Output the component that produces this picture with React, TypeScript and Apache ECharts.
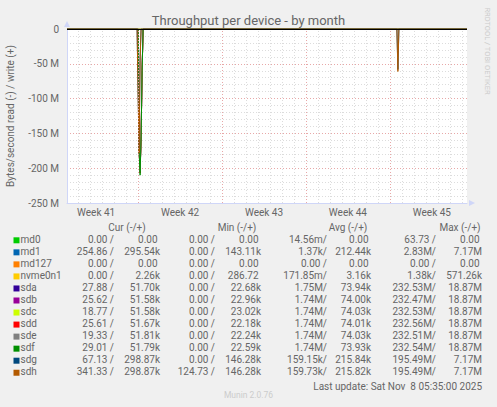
import { useEffect, useRef } from 'react';
import * as echarts from 'echarts';

const FONT = 'Roboto, "Open Sans", sans-serif';
const TEXT = '#666666';
const AXIS = '#CFD6F8';
const GRID = '#dcdcdc';
const MGRID = '#e8a8a8';

// x axis is in days since Sun 5 Oct 2025 00:00
const rangeStartDay = 1.07;
const rangeEndDay = 34.43;
const dayLines = [2, 3, 4, 5, 6, 8, 9, 10, 11, 12, 13, 15, 16, 17, 18, 19, 20, 22, 23, 24, 25, 26, 27, 29, 30, 31, 32, 33, 34];
const weekLines = [7, 14, 21, 28];
const weekCenters = [3.5, 10.5, 17.5, 24.5, 31.5];
const weekLabels = ['Week 41', 'Week 42', 'Week 43', 'Week 44', 'Week 45'];

const yTicks = [-250e6, -200e6, -150e6, -100e6, -50e6, 0];

const deviceNames = ['md0', 'md1', 'md127', 'nvme0n1', 'sda', 'sdb', 'sdc', 'sdd', 'sde', 'sdf', 'sdg', 'sdh'];
const deviceColors = ['#00CC00', '#0066B3', '#FF8000', '#FFCC00', '#330099', '#990099', '#CCFF00', '#FF0000', '#808080', '#008F00', '#00487D', '#B35A00'];

// read throughput in MB/s, as [day, value] pairs (drawn as negative)
const flatRead = [[rangeStartDay, 0], [rangeEndDay, 0]];
const sdaRead = [[rangeStartDay, 0], [7.0, 0], [7.083, 174], [7.167, 205], [7.25, 155], [7.333, 60], [7.417, 0], [rangeEndDay, 0]];
const sdbRead = [[rangeStartDay, 0], [7.0, 0], [7.083, 174], [7.167, 206], [7.25, 155], [7.333, 60], [7.417, 0], [rangeEndDay, 0]];
const sdcRead = [[rangeStartDay, 0], [7.0, 0], [7.083, 175], [7.167, 204], [7.25, 155], [7.333, 60], [7.417, 0], [rangeEndDay, 0]];
const sddRead = [[rangeStartDay, 0], [7.0, 0], [7.083, 174], [7.167, 207], [7.25, 155], [7.333, 60], [7.417, 0], [rangeEndDay, 0]];
const sdeRead = [[rangeStartDay, 0], [7.0, 0], [7.083, 175], [7.167, 205], [7.25, 155], [7.333, 60], [7.417, 0], [rangeEndDay, 0]];
const sdfRead = [[rangeStartDay, 0], [7.0, 0], [7.083, 175], [7.167, 210], [7.25, 155], [7.333, 60], [7.417, 0], [rangeEndDay, 0]];
const sdgRead = [[rangeStartDay, 0], [6.917, 0], [7.0, 90], [7.083, 172], [7.167, 40], [7.25, 0], [28.583, 0], [28.667, 58], [28.75, 0], [rangeEndDay, 0]];
const sdhRead = [[rangeStartDay, 0], [6.917, 0], [7.0, 95], [7.083, 178], [7.167, 45], [7.25, 0], [28.583, 0], [28.667, 61], [28.75, 0], [rangeEndDay, 0]];
const deviceRead = [flatRead, flatRead, flatRead, flatRead, sdaRead, sdbRead, sdcRead, sddRead, sdeRead, sdfRead, sdgRead, sdhRead];

// legend values
const curRead = ['0.00 /', '254.86 /', '0.00 /', '0.00 /', '27.88 /', '25.62 /', '18.77 /', '25.61 /', '19.33 /', '29.01 /', '67.13 /', '341.33 /'];
const curWrite = ['0.00', '295.54k', '0.00', '2.26k', '51.70k', '51.58k', '51.58k', '51.67k', '51.81k', '51.79k', '298.87k', '298.87k'];
const minRead = ['0.00 /', '0.00 /', '0.00 /', '0.00 /', '0.00 /', '0.00 /', '0.00 /', '0.00 /', '0.00 /', '0.00 /', '0.00 /', '124.73 /'];
const minWrite = ['0.00', '143.11k', '0.00', '286.72', '22.68k', '22.96k', '23.02k', '22.18k', '22.24k', '22.59k', '146.28k', '146.28k'];
const avgRead = ['14.56m/', '1.37k/', '0.00 /', '171.85m/', '1.75M/', '1.74M/', '1.74M/', '1.74M/', '1.74M/', '1.74M/', '159.15k/', '159.73k/'];
const avgWrite = ['0.00', '212.44k', '0.00', '3.16k', '73.94k', '74.00k', '74.03k', '74.01k', '74.03k', '73.93k', '215.84k', '215.82k'];
const maxRead = ['63.73 /', '2.83M/', '0.00 /', '1.38k/', '232.53M/', '232.47M/', '232.53M/', '232.56M/', '232.51M/', '232.54M/', '195.49M/', '195.49M/'];
const maxWrite = ['0.00', '7.17M', '0.00', '571.26k', '18.87M', '18.87M', '18.87M', '18.87M', '18.87M', '18.87M', '7.17M', '7.17M'];

const headers = ['Cur (-/+)', 'Min (-/+)', 'Avg (-/+)', 'Max (-/+)'];
const headerX = [127, 237, 348, 460];
const columnRight = [114, 160, 215, 261, 327, 371, 436, 482];

function txt(text: string, x: number, y: number, align: string, extra: any = {}) {
    return {
        type: 'text',
        x, y,
        silent: true,
        style: {
            text,
            fill: TEXT,
            fontSize: 10,
            lineHeight: 11,
            fontFamily: FONT,
            align, textAlign: align,
            verticalAlign: 'middle', textVerticalAlign: 'middle',
            ...extra
        }
    };
}

function buildLegend() {
    const els: any[] = [];
    headers.forEach((h, i) => els.push(txt(h, headerX[i], 227, 'center')));
    const cols = [curRead, curWrite, minRead, minWrite, avgRead, avgWrite, maxRead, maxWrite];
    deviceNames.forEach((name, r) => {
        const y = 239.3 + r * 12.04;
        els.push({
            type: 'rect', silent: true,
            shape: { x: 13.5, y: y - 2, width: 6, height: 6 },
            style: { fill: deviceColors[r] }
        });
        els.push(txt(name, 20.5, y, 'left'));
        cols.forEach((col, c) => {
            let s = col[r];
            // values without a unit keep rrdtool's trailing blank
            if (c % 2 === 1 && /\d$/.test(s)) s += '\u00a0';
            els.push(txt(s, columnRight[c], y, 'right'));
        });
    });
    els.push(txt('Last update: Sat Nov\u00a0 8 05:35:00 2025', 482, 386.7, 'right'));
    els.push(txt('Munin 2.0.76', 248.5, 395, 'center', { fill: '#cccccc', fontSize: 8.5, lineHeight: 9 }));
    els.push({
        ...txt('RRDTOOL / TOBI OETIKER', 0, 0, 'center', { fill: '#cccccc', fontSize: 7.5, lineHeight: 8 }),
        x: 487, y: 51, rotation: -Math.PI / 2
    });
    els.push(txt('Throughput per device - by month', 248.5, 20, 'center', { fontSize: 13, lineHeight: 14 }));
    return els;
}

const App = () => {
    const chartRef = useRef<HTMLDivElement>(null);

    useEffect(() => {
        if (!chartRef.current) return;
        const chart = echarts.init(chartRef.current, null, { renderer: 'svg' });

        const dotted = (color: string) => ({ color, type: [1, 2], width: 1 });

        const series: any[] = [
            {
                type: 'line', data: [], z: 1, silent: true,
                markLine: {
                    silent: true, animation: false, symbol: ['none', 'none'], label: { show: false },
                    data: [
                        ...dayLines.map(d => ({ xAxis: d, lineStyle: dotted(GRID) })),
                        ...weekLines.map(d => ({ xAxis: d, lineStyle: dotted(MGRID) }))
                    ]
                }
            },
            ...deviceNames.map((name, i) => ({
                name,
                type: 'line',
                z: 3,
                showSymbol: false,
                symbol: 'none',
                clip: true,
                lineStyle: { color: deviceColors[i], width: 1 },
                itemStyle: { color: deviceColors[i] },
                data: deviceRead[i].map(([d, v]) => [d, -v * 1e6])
            })),
            {
                type: 'line', data: [], z: 10, silent: true,
                markLine: {
                    silent: true, animation: false, symbol: ['none', 'none'], label: { show: false },
                    data: [{ yAxis: 0, lineStyle: { color: '#000000', type: 'solid', width: 1 } }]
                }
            }
        ];

        chart.setOption({
            animation: false,
            backgroundColor: '#f0f0f0',
            textStyle: { fontFamily: FONT },
            grid: {
                left: 67, top: 29, width: 400, height: 174,
                outerBoundsMode: 'none', containLabel: false,
                show: true, backgroundColor: '#ffffff', borderWidth: 0
            },
            xAxis: {
                type: 'value',
                min: rangeStartDay,
                max: rangeEndDay,
                axisLine: {
                    onZero: false,
                    lineStyle: { color: AXIS, width: 1 },
                    symbol: ['none', 'triangle'], symbolSize: [6, 6], symbolOffset: [0, 5]
                },
                axisTick: { show: false },
                splitLine: { show: false },
                axisLabel: {
                    customValues: weekCenters,
                    formatter: (v: number) => {
                        const i = weekCenters.findIndex(c => Math.abs(c - v) < 1e-6);
                        return i >= 0 ? weekLabels[i] : '';
                    },
                    color: TEXT, fontSize: 10, fontFamily: FONT, margin: 4
                }
            },
            yAxis: {
                type: 'value',
                min: yTicks[0],
                max: yTicks[yTicks.length - 1],
                interval: 50e6,
                name: 'Bytes/second read (-) / write (+)',
                nameLocation: 'middle',
                nameGap: 52,
                nameTextStyle: { color: TEXT, fontSize: 10, fontFamily: FONT },
                axisLine: {
                    show: true, onZero: false,
                    lineStyle: { color: AXIS, width: 1 },
                    symbol: ['none', 'triangle'], symbolSize: [6, 6], symbolOffset: [0, 5]
                },
                axisTick: { show: false },
                axisLabel: {
                    color: TEXT, fontSize: 10, fontFamily: FONT, margin: 8,
                    formatter: (v: number) => (v === 0 ? '0' : `${v / 1e6} M`)
                },
                splitLine: { show: true, lineStyle: dotted(MGRID) },
                minorTick: { show: false, splitNumber: 5 },
                minorSplitLine: { show: true, lineStyle: dotted(GRID) }
            },
            graphic: buildLegend(),
            series
        });

        return () => {
            chart.dispose();
        };
    }, []);

    return (
        <div
            ref={chartRef}
            style={{ position: 'fixed', left: 0, top: 0, width: 497, height: 407 }}
        />
    );
};

export default App;
